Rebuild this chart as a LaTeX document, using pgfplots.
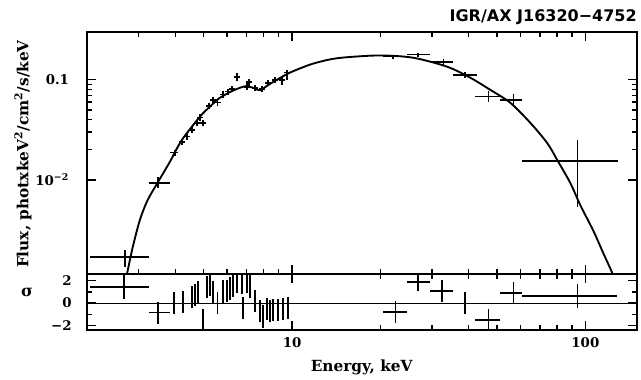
\documentclass[border=0pt]{standalone}
\usepackage{fontspec}
\setmainfont{DejaVu Serif}
\newfontfamily\titlefont{DejaVu Sans}
\usepackage{pgfplots}
\usepackage{pgfplotstable}
\pgfplotsset{compat=1.18}

\pgfplotstableread{
E Elo Ehi F Flo Fhi
2.69 2.04 3.25 0.0017 0.00135 0.0020
3.49 3.25 3.84 0.0093 0.0083 0.0107
3.99 3.84 4.10 0.0187 0.0172 0.0200
4.21 4.11 4.31 0.024 0.0222 0.0258
4.38 4.28 4.48 0.027 0.0250 0.0290
4.56 4.45 4.67 0.0316 0.0292 0.0340
4.74 4.63 4.85 0.037 0.0342 0.0398
4.86 4.75 4.98 0.042 0.0390 0.0452
4.97 4.86 5.09 0.037 0.0342 0.0398
5.21 5.09 5.33 0.055 0.0510 0.0592
5.37 5.25 5.50 0.063 0.0585 0.0680
5.58 5.45 5.71 0.059 0.0548 0.0635
5.82 5.69 5.96 0.071 0.0660 0.0765
6.05 5.91 6.19 0.076 0.0705 0.0815
6.24 6.10 6.39 0.081 0.0752 0.0870
6.49 6.34 6.64 0.107 0.0980 0.1160
7.01 6.85 7.17 0.085 0.0785 0.0920
7.13 6.97 7.30 0.095 0.0875 0.1030
7.48 7.31 7.66 0.083 0.0770 0.0895
7.90 7.72 8.09 0.081 0.0750 0.0870
8.28 8.09 8.48 0.093 0.0865 0.1000
8.75 8.55 8.96 0.100 0.0930 0.1070
9.25 9.04 9.47 0.100 0.0880 0.1070
9.61 9.39 9.84 0.118 0.1000 0.1260
22.1 20.5 24.7 0.170 0.162 0.178
26.9 24.7 29.6 0.178 0.170 0.187
32.8 29.6 35.4 0.150 0.140 0.160
38.9 35.4 42.8 0.112 0.104 0.120
46.7 42.2 51.3 0.068 0.060 0.078
57.0 51.3 60.9 0.063 0.055 0.072
94.0 60.9 128.7 0.0155 0.0054 0.025
}\fluxdata

\pgfplotstableread{
E F
2.70 0.0010
2.74 0.00117
2.86 0.0021
3.03 0.0040
3.22 0.0063
3.49 0.0095
3.83 0.0151
4.21 0.025
4.86 0.043
5.25 0.054
5.67 0.066
6.29 0.078
6.49 0.081
6.90 0.086
7.30 0.084
7.78 0.079
8.41 0.091
9.61 0.114
10.65 0.130
11.8 0.145
13.5 0.160
15.4 0.168
19.97 0.175
25.9 0.166
33.8 0.135
40.5 0.105
47.4 0.0794
55.5 0.0589
64.9 0.0372
74.1 0.0234
80.2 0.0158
88.9 0.0093
96.1 0.0056
106.5 0.0031
115.1 0.00186
123.6 0.00117
125.0 0.0010
}\modeldata

\pgfplotstableread{
E Elo Ehi S Serr
3.49 3.25 3.84 -0.86 1.0
3.96 3.96 3.96 0.0 1.0
4.25 4.25 4.25 0.1 1.0
4.56 4.56 4.56 0.55 1.0
4.67 4.67 4.67 0.7 1.0
4.78 4.78 4.78 1.0 1.0
4.97 4.97 4.97 -1.5 1.0
5.13 5.13 5.13 1.45 1.0
5.25 5.25 5.25 1.6 1.0
5.37 5.37 5.37 1.0 1.0
5.58 5.58 5.58 0.0 1.0
5.82 5.82 5.82 1.05 1.0
6.00 6.00 6.00 1.1 1.0
6.14 6.14 6.14 1.3 1.0
6.29 6.29 6.29 1.55 1.0
6.49 6.49 6.49 1.9 1.0
6.75 6.75 6.75 1.85 1.0
6.80 6.80 6.80 -0.45 1.0
7.01 7.01 7.01 1.9 1.0
7.19 7.19 7.19 1.5 1.0
7.48 7.48 7.48 0.2 1.0
7.78 7.78 7.78 -0.7 1.0
7.96 7.96 7.96 -1.2 1.0
8.22 8.22 8.22 -0.55 1.0
8.41 8.41 8.41 -0.7 1.0
8.61 8.61 8.61 -0.6 1.0
8.96 8.96 8.96 -0.6 1.0
9.31 9.31 9.31 -0.5 1.0
9.69 9.69 9.69 -0.45 1.0
22.5 20.5 24.7 -0.8 1.0
26.9 24.7 29.6 1.9 0.8
32.5 29.6 35.4 1.1 1.0
38.9 38.9 38.9 0.0 1.0
46.7 42.2 51.3 -1.5 1.0
56.8 51.3 60.9 0.9 1.0
94.0 60.9 128.5 0.65 1.1
}\resdata

\pgfplotstableread{
E Elo Ehi S Serr
2.67 2.04 3.25 1.45 1.1
}\resfirst

\begin{document}
\begin{tikzpicture}[x=1pt,y=1pt]
\path[use as bounding box] (-65.25,-78.75) rectangle (415.5,205.5);
\begin{axis}[name=main, at={(0,0)}, anchor=south west,
  scale only axis, width=412.5pt, height=181.5pt,
  xmode=log, ymode=log, xmin=2, xmax=150, ymin=0.00115, ymax=0.3,
  axis line style={line width=1.8pt},
  tick style={line width=1pt, black},
  major tick length=7pt, minor tick length=4pt,
  tick label style={font=\bfseries},
  xticklabels={},
  ytick={0.01,0.1}, yticklabels={10\textsuperscript{−2}, 0.1},
  yticklabel style={xshift=-10pt},
]
\addplot[draw=none, mark=none,
    error bars/.cd, x dir=both, x explicit, y dir=both, y explicit,
    error mark=none, error bar style={draw=black, line width=1.1pt}]
  table[x=E, y=F,
  x error plus expr=\thisrow{Ehi}-\thisrow{E},
  x error minus expr=\thisrow{E}-\thisrow{Elo},
  y error plus expr=\thisrow{Fhi}-\thisrow{F},
  y error minus expr=\thisrow{F}-\thisrow{Flo}] {\fluxdata};
\addplot[black, line width=1.4pt, smooth, tension=0.5] table[x=E, y=F] {\modeldata};
\end{axis}
\begin{axis}[at={(0,0)}, anchor=north west,
  scale only axis, width=412.5pt, height=42pt,
  xmode=log, xmin=2, xmax=150, ymin=-2.4, ymax=2.6,
  axis line style={line width=1.8pt},
  tick style={line width=1pt, black},
  major tick length=7pt, minor tick length=4pt,
  tick label style={font=\bfseries},
  ytick={-2,0,2}, yticklabels={−2,0,2}, minor ytick={-1,1},
  xtick={10,100}, xticklabels={10,100},
  yticklabel style={xshift=-8pt},
  xticklabel style={yshift=-2pt},
]
\addplot[black, line width=0.8pt] coordinates {(2,0) (150,0)};
\addplot[draw=none, mark=none,
    error bars/.cd, x dir=both, x explicit, y dir=both, y explicit,
    error mark=none, error bar style={draw=black, line width=1.1pt}]
  table[x=E, y=S,
  x error plus expr=\thisrow{Ehi}-\thisrow{E},
  x error minus expr=\thisrow{E}-\thisrow{Elo},
  y error expr=\thisrow{Serr}] {\resdata};
\addplot[draw=none, mark=none,
    error bars/.cd, x dir=both, x explicit, y dir=both, y explicit,
    error mark=none, error bar style={draw=black, line width=1.8pt}]
  table[x=E, y=S,
  x error plus expr=\thisrow{Ehi}-\thisrow{E},
  x error minus expr=\thisrow{E}-\thisrow{Elo},
  y error expr=\thisrow{Serr}] {\resfirst};
\end{axis}
\node[anchor=east, inner sep=0pt, font=\titlefont\bfseries\fontsize{12}{14}\selectfont] at (412.5,192.75) {IGR/AX J16320−4752};
\node[rotate=90, font=\bfseries\fontsize{11.5}{13}\selectfont] at (-48,90) {Flux, photxkeV\textsuperscript{2}/cm\textsuperscript{2}/s/keV};
\node[font=\bfseries\fontsize{12}{14}\selectfont] at (-45,-13.5) {σ};
\node[font=\bfseries\fontsize{11.5}{14}\selectfont] at (206,-69.75) {Energy, keV};
\end{tikzpicture}
\end{document}
